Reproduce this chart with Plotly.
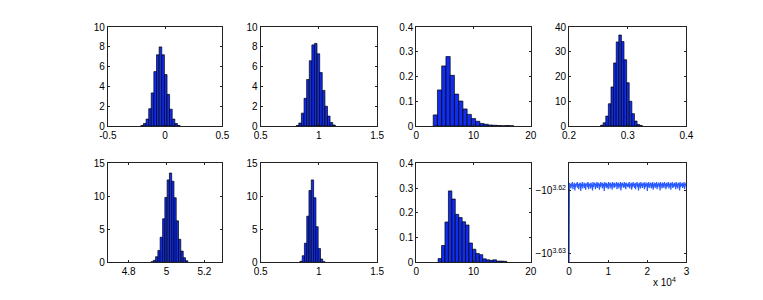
import plotly.graph_objects as go

# ---------------- data ----------------
h1_centers = [-0.201, -0.178, -0.155, -0.132, -0.110, -0.087, -0.064, -0.041, -0.018, 0.005, 0.027, 0.050, 0.073, 0.096, 0.119]
h1_values = [0.05, 0.25, 0.7, 1.75, 3.35, 5.5, 7.2, 8.0, 7.2, 5.2, 3.2, 1.7, 0.7, 0.25, 0.05]

h2_centers = [0.817, 0.839, 0.861, 0.884, 0.906, 0.929, 0.951, 0.973, 0.996, 1.018, 1.041, 1.063, 1.085, 1.108, 1.130]
h2_values = [0.05, 0.3, 1.3, 2.8, 4.7, 6.6, 8.2, 8.35, 7.3, 5.4, 3.6, 2.0, 1.0, 0.35, 0.1]

h3_centers = [3.33, 4.07, 4.81, 5.55, 6.29, 7.03, 7.77, 8.51, 9.25, 9.99, 10.73, 11.47, 12.21, 12.95, 13.69, 14.43, 15.17, 15.91, 16.65]
h3_values = [0.045, 0.146, 0.243, 0.281, 0.205, 0.129, 0.101, 0.069, 0.047, 0.030, 0.019, 0.010, 0.007, 0.004, 0.003, 0.002, 0.001, 0.002, 0.001]

h4_centers = [0.2559, 0.2603, 0.2648, 0.2692, 0.2737, 0.2781, 0.2826, 0.2870, 0.2914, 0.2959, 0.3003, 0.3048, 0.3092, 0.3137, 0.3181, 0.3226]
h4_values = [0.3, 1.3, 4.0, 9.0, 15.8, 25.5, 34.0, 36.8, 34.2, 26.8, 17.5, 10.0, 5.0, 2.0, 0.6, 0.2]

h5_centers = [4.924, 4.936, 4.948, 4.960, 4.972, 4.985, 4.997, 5.009, 5.021, 5.033, 5.045, 5.057, 5.069, 5.082, 5.094, 5.106]
h5_values = [0.1, 0.3, 0.85, 1.8, 3.8, 6.6, 9.85, 12.5, 13.55, 12.3, 9.8, 6.3, 3.5, 1.7, 0.7, 0.25]

h6_centers = [0.847, 0.867, 0.886, 0.906, 0.925, 0.945, 0.965, 0.984, 1.004, 1.023, 1.043]
h6_values = [0.15, 1.0, 2.9, 7.0, 10.9, 12.5, 9.8, 5.4, 2.1, 0.5, 0.1]

h7_centers = [4.11, 4.71, 5.31, 5.91, 6.51, 7.11, 7.71, 8.31, 8.91, 9.51, 10.11, 10.71, 11.31, 11.91, 12.51, 13.11, 13.71, 14.31, 14.91, 15.51]
h7_values = [0.015, 0.068, 0.163, 0.289, 0.256, 0.194, 0.181, 0.164, 0.151, 0.078, 0.053, 0.036, 0.031, 0.014, 0.010, 0.008, 0.010, 0.005, 0.005, 0.004]

trace_iter = [0] + list(range(125, 30001, 125))
trace_values = [-4300,
    -4156, -4163, -4158, -4165, -4157, -4161, -4155, -4166, -4159, -4162,
    -4156, -4168, -4158, -4163, -4157, -4160, -4155, -4164, -4158, -4166,
    -4157, -4161, -4156, -4169, -4158, -4162, -4155, -4165, -4159, -4161,
    -4156, -4164, -4157, -4167, -4158, -4160, -4156, -4163, -4155, -4166,
    -4158, -4161, -4157, -4165, -4156, -4162, -4159, -4168, -4155, -4163,
    -4157, -4160, -4156, -4166, -4158, -4162, -4155, -4164, -4157, -4161,
    -4156, -4167, -4158, -4163, -4155, -4160, -4157, -4165, -4156, -4162,
    -4158, -4169, -4155, -4161, -4157, -4164, -4156, -4163, -4158, -4166,
    -4155, -4160, -4157, -4165, -4156, -4162, -4158, -4167, -4155, -4161,
    -4157, -4164, -4156, -4163, -4158, -4160, -4155, -4166, -4157, -4162,
    -4156, -4165, -4158, -4161, -4155, -4168, -4157, -4163, -4156, -4160,
    -4158, -4164, -4155, -4162, -4157, -4166, -4156, -4161, -4158, -4163,
    -4157, -4162, -4155, -4165, -4158, -4160, -4156, -4167, -4157, -4163,
    -4155, -4161, -4158, -4164, -4156, -4166, -4157, -4160, -4155, -4163,
    -4158, -4168, -4156, -4162, -4157, -4165, -4155, -4161, -4158, -4164,
    -4156, -4160, -4157, -4166, -4155, -4163, -4158, -4161, -4156, -4169,
    -4157, -4162, -4155, -4164, -4158, -4160, -4156, -4165, -4157, -4163,
    -4155, -4167, -4158, -4161, -4156, -4164, -4157, -4162, -4155, -4166,
    -4158, -4160, -4156, -4163, -4157, -4168, -4155, -4161, -4158, -4165,
    -4156, -4162, -4157, -4164, -4155, -4160, -4158, -4166, -4156, -4163,
    -4157, -4161, -4155, -4165, -4158, -4162, -4156, -4167, -4157, -4160,
    -4155, -4164, -4158, -4163, -4156, -4161, -4157, -4166, -4155, -4162,
    -4158, -4165, -4156, -4160, -4157, -4168, -4155, -4163, -4158, -4161,
    -4156, -4164, -4157, -4162, -4155, -4166, -4158, -4160, -4156, -4163]

# tick labels
x_ticks = [
    ([-0.5, 0, 0.5], ["-0.5", "0", "0.5"]),
    ([0.5, 1, 1.5], ["0.5", "1", "1.5"]),
    ([0, 10, 20], ["0", "10", "20"]),
    ([0.2, 0.3, 0.4], ["0.2", "0.3", "0.4"]),
    ([4.8, 5, 5.2], ["4.8", "5", "5.2"]),
    ([0.5, 1, 1.5], ["0.5", "1", "1.5"]),
    ([0, 10, 20], ["0", "10", "20"]),
    ([0, 10000, 20000, 30000], ["0", "1", "2", "3"]),
]
y_ticks = [
    ([0, 2, 4, 6, 8, 10], ["0", "2", "4", "6", "8", "10"]),
    ([0, 2, 4, 6, 8, 10], ["0", "2", "4", "6", "8", "10"]),
    ([0, 0.1, 0.2, 0.3, 0.4], ["0", "0.1", "0.2", "0.3", "0.4"]),
    ([0, 10, 20, 30, 40], ["0", "10", "20", "30", "40"]),
    ([0, 5, 10, 15], ["0", "5", "10", "15"]),
    ([0, 5, 10, 15], ["0", "5", "10", "15"]),
    ([0, 0.1, 0.2, 0.3, 0.4], ["0", "0.1", "0.2", "0.3", "0.4"]),
    ([-4168.7, -4265.8], ["\u221210<sup>3.62</sup>", "\u221210<sup>3.63</sup>"]),
]

# ---------------- layout geometry ----------------
W, H = 763, 300
col_px = [(101, 218), (257, 376), (416, 533), (572, 692)]
row_px = [(22, 125), (164, 267)]
x_ranges = [[-0.5, 0.5], [0.5, 1.5], [0, 20], [0.2, 0.4],
            [4.69, 5.295], [0.5, 1.5], [0, 20], [0, 30000]]
y_ranges = [[0, 10], [0, 10], [0, 0.4], [0, 40],
            [0, 15], [0, 15], [0, 0.4], [-4280, -4126]]

hists = [(h1_centers, h1_values), (h2_centers, h2_values), (h3_centers, h3_values),
         (h4_centers, h4_values), (h5_centers, h5_values), (h6_centers, h6_values),
         (h7_centers, h7_values)]

BAR_COLOR = "rgb(16,45,240)"
fig = go.Figure()

for i, (cx, cy) in enumerate(hists):
    n = i + 1
    suf = "" if n == 1 else str(n)
    fig.add_trace(go.Bar(
        x=cx, y=cy, width=cx[1] - cx[0],
        marker=dict(color=BAR_COLOR, line=dict(color="black", width=0.7)),
        xaxis="x" + suf, yaxis="y" + suf, showlegend=False,
    ))

fig.add_trace(go.Scatter(
    x=trace_iter, y=trace_values, mode="lines",
    line=dict(color="rgb(40,90,255)", width=1.2, simplify=False),
    xaxis="x8", yaxis="y8", showlegend=False,
))

axis_common = dict(
    showline=True, linecolor="#222", linewidth=1, mirror="ticks",
    ticks="inside", ticklen=2, tickcolor="#222", showgrid=False,
    zeroline=False, tickfont=dict(family="Liberation Sans, Arial", size=10, color="black"),
    fixedrange=True,
)

layout = dict(
    width=W, height=H, autosize=False,
    margin=dict(l=0, r=0, t=0, b=0),
    paper_bgcolor="white", plot_bgcolor="white",
    bargap=0,
)
for k in range(8):
    n = k + 1
    suf = "" if n == 1 else str(n)
    c = k % 4
    r = k // 4
    x0, x1 = col_px[c]
    y0, y1 = row_px[r]
    layout["xaxis" + suf] = dict(
        axis_common, domain=[x0 / W, x1 / W], anchor="y" + suf,
        range=x_ranges[k], tickvals=x_ticks[k][0], ticktext=x_ticks[k][1],
    )
    layout["yaxis" + suf] = dict(
        axis_common, domain=[1 - y1 / H, 1 - y0 / H], anchor="x" + suf,
        range=y_ranges[k], tickvals=y_ticks[k][0], ticktext=y_ticks[k][1],
    )

fig.update_layout(**layout)
fig.add_annotation(
    x=683 / W, y=1 - 287 / H, xref="paper", yref="paper",
    text="x 10<sup>4</sup>", showarrow=False, xanchor="right", yanchor="middle",
    font=dict(family="Liberation Sans, Arial", size=10, color="black"),
)

fig.write_html(
    "out.html",
    config={"displayModeBar": False, "staticPlot": True},
    post_script="document.body.style.margin='0';document.body.style.overflow='hidden';",
)
